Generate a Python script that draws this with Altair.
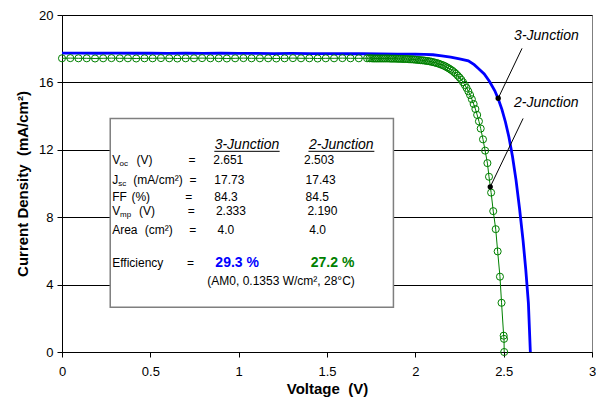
import altair as alt
import pandas as pd

# ---------------- data ----------------
# 3-junction cell (blue solid curve)
volt_3j = [0.0, 0.1, 0.2, 0.3, 0.4, 0.5, 0.6, 0.7, 0.8, 0.9,
           1.0, 1.1, 1.2, 1.3, 1.4, 1.5, 1.6, 1.7, 1.8, 1.9,
           2.0, 2.05, 2.1, 2.15, 2.2, 2.25, 2.3, 2.333, 2.36, 2.39,
           2.42, 2.45, 2.47, 2.49, 2.51, 2.53, 2.55, 2.57, 2.59, 2.61,
           2.625, 2.64, 2.651]
curr_3j = [17.74, 17.74, 17.73, 17.74, 17.73, 17.73, 17.72, 17.73, 17.72, 17.73,
           17.72, 17.72, 17.71, 17.72, 17.71, 17.71, 17.70, 17.70, 17.69, 17.68,
           17.67, 17.66, 17.64, 17.58, 17.50, 17.40, 17.28, 17.05, 16.80, 16.50,
           16.05, 15.50, 15.00, 14.40, 13.65, 12.75, 11.60, 10.20, 8.50, 6.60,
           4.90, 2.90, 0.00]

# 2-junction cell (green line with open circles)
volt_2j_flat = [0.000, 0.047, 0.093, 0.140, 0.187, 0.233, 0.280, 0.327, 0.373, 0.420,
                0.467, 0.513, 0.560, 0.607, 0.653, 0.700, 0.747, 0.793, 0.840, 0.887,
                0.933, 0.980, 1.027, 1.073, 1.120, 1.167, 1.213, 1.260, 1.307, 1.353,
                1.400, 1.447, 1.493, 1.540, 1.587, 1.633, 1.680, 1.727]
curr_2j_flat = [17.43, 17.44, 17.43, 17.43, 17.42, 17.43, 17.44, 17.43, 17.43, 17.42,
                17.43, 17.43, 17.44, 17.43, 17.42, 17.43, 17.43, 17.44, 17.43, 17.43,
                17.42, 17.43, 17.44, 17.43, 17.43, 17.43, 17.42, 17.43, 17.44, 17.43,
                17.43, 17.42, 17.43, 17.43, 17.44, 17.43, 17.43, 17.43]
volt_2j_knee = [1.74, 1.75, 1.76, 1.77, 1.78, 1.79, 1.80, 1.81, 1.82, 1.83,
                1.84, 1.85, 1.86, 1.87, 1.88, 1.89, 1.90, 1.91, 1.92, 1.93,
                1.94, 1.95, 1.96, 1.97, 1.98, 1.99, 2.00, 2.01, 2.02, 2.03,
                2.04, 2.05, 2.06, 2.07, 2.08, 2.09, 2.10, 2.11, 2.12, 2.13,
                2.14, 2.15, 2.16, 2.17, 2.18, 2.19, 2.20, 2.21, 2.22, 2.23,
                2.24, 2.25, 2.26, 2.27, 2.28, 2.29, 2.30, 2.31, 2.32, 2.33,
                2.34, 2.35, 2.36, 2.37]
curr_2j_knee = [17.43, 17.43, 17.42, 17.42, 17.42, 17.42, 17.42, 17.42, 17.42, 17.42,
                17.42, 17.42, 17.41, 17.41, 17.41, 17.41, 17.40, 17.40, 17.40, 17.39,
                17.39, 17.39, 17.38, 17.37, 17.37, 17.36, 17.35, 17.34, 17.33, 17.32,
                17.31, 17.30, 17.28, 17.27, 17.25, 17.23, 17.20, 17.18, 17.15, 17.12,
                17.08, 17.04, 17.00, 16.95, 16.89, 16.83, 16.76, 16.69, 16.60, 16.51,
                16.40, 16.29, 16.16, 16.01, 15.85, 15.67, 15.47, 15.25, 15.00, 14.72,
                14.42, 14.07, 13.69, 13.26]
volt_2j_drop = [2.383, 2.395, 2.408, 2.417, 2.429, 2.441, 2.455, 2.466, 2.479, 2.488,
                2.500, 2.502, 2.503]
curr_2j_drop = [12.62, 11.95, 11.21, 10.40, 9.46, 8.36, 7.29, 5.97, 4.47, 2.92,
                0.97, 0.78, 0.00]

x_tick_values = [0, 0.5, 1, 1.5, 2, 2.5, 3]
y_tick_values = [0, 4, 8, 12, 16, 20]

series_names = ["3-Junction", "2-Junction"]
values_3j = ["2.651", "17.73", "84.3", "2.333", "4.0"]
values_2j = ["2.503", "17.43", "84.5", "2.190", "4.0"]
efficiency_3j = "29.3 %"
efficiency_2j = "27.2 %"
conditions = "(AM0, 0.1353 W/cm\u00b2, 28\u00b0C)"
marker_3j = [2.469, 15.06]
marker_2j = [2.424, 9.80]

# ---------------- styling ----------------
FONT = "Liberation Sans"
BLUE = "#0000ff"
GREEN = "#008000"
W, H = 530, 337

xs = alt.Scale(domain=[0, 3], nice=False, zero=False)
ys = alt.Scale(domain=[0, 20], nice=False, zero=False)

x_axis = alt.Axis(
    title="Voltage\u00a0 (V)", values=x_tick_values, format="~g", grid=False,
    domainColor="black", tickColor="black", tickSize=5, labelPadding=8,
    labelFont=FONT, labelFontSize=13, labelColor="black", labelFlush=False,
    titleFont=FONT, titleFontSize=15, titleFontWeight="bold", titleColor="black",
    titleX=W / 2, titleY=41, titleBaseline="alphabetic", titleAlign="center")
y_axis = alt.Axis(
    title="Current Density\u00a0 (mA/cm\u00b2)", values=y_tick_values, grid=True,
    gridColor="black", gridWidth=1, gridOpacity=1,
    domainColor="black", tickColor="black", tickSize=5, labelPadding=4,
    labelFont=FONT, labelFontSize=13, labelColor="black", labelFlush=False,
    titleFont=FONT, titleFontSize=15, titleFontWeight="bold", titleColor="black",
    titleX=-40, titleY=H / 2, titleBaseline="middle", titleAlign="center")


def X(field):
    return alt.X(field, type="quantitative", scale=xs, axis=x_axis)


def Y(field):
    return alt.Y(field, type="quantitative", scale=ys, axis=y_axis)


df3 = pd.DataFrame({"V": volt_3j, "J": curr_3j})
df3["i"] = range(len(df3))
volt_2j = volt_2j_flat + volt_2j_knee + volt_2j_drop
curr_2j = curr_2j_flat + curr_2j_knee + curr_2j_drop
df2 = pd.DataFrame({"V": volt_2j, "J": curr_2j})
df2["i"] = range(len(df2))

blue_line = alt.Chart(df3).mark_line(color=BLUE, strokeWidth=2.8).encode(
    x=X("V"), y=Y("J"), order=alt.Order("i:Q"))
green_line = alt.Chart(df2).mark_line(color=GREEN, strokeWidth=1).encode(
    x=X("V"), y=Y("J"), order=alt.Order("i:Q"))
green_pts = alt.Chart(df2).mark_point(
    shape="circle", filled=False, color=GREEN, size=50, strokeWidth=1, opacity=1).encode(
    x=X("V"), y=Y("J"))

# inset table box
box_df = pd.DataFrame({"x1": [0.273], "x2": [1.876], "y1": [2.66], "y2": [13.86]})
box = alt.Chart(box_df).mark_rect(fill="white", stroke="#7f7f7f", strokeWidth=1.5).encode(
    x=X("x1"), x2="x2", y=Y("y1"), y2="y2")

# callouts
call_df = pd.DataFrame({
    "V": [marker_3j[0], marker_2j[0]], "J": [marker_3j[1], marker_2j[1]],
    "V2": [2.604, 2.610], "J2": [18.02, 13.86]})
call_lines = alt.Chart(call_df).mark_rule(color="black", strokeWidth=1).encode(
    x=X("V"), y=Y("J"), x2="V2", y2="J2")
call_dots = alt.Chart(call_df).mark_circle(color="black", size=28, opacity=1).encode(
    x=X("V"), y=Y("J"))


def text_layer(df, **kw):
    return alt.Chart(df).mark_text(font=FONT, baseline="middle", **kw).encode(
        x=X("V"), y=Y("J"), text="t:N")


call_text = text_layer(pd.DataFrame({
    "V": [2.742, 2.741], "J": [18.78, 14.77], "t": series_names}),
    fontSize=14, fontStyle="italic", align="center", color="black")

row_J = [11.37, 10.20, 9.20, 8.36, 7.25, 5.31]

headers = text_layer(pd.DataFrame({
    "V": [1.047, 1.581], "J": [12.29, 12.29], "t": series_names}),
    fontSize=14, fontStyle="italic", align="center", color="black")
underline_df = pd.DataFrame({"V": [0.862, 1.395], "V2": [1.232, 1.768], "J": [11.91, 11.91]})
underlines = alt.Chart(underline_df).mark_rule(color="black", strokeWidth=1).encode(
    x=X("V"), x2="V2", y=Y("J"))

labels_main = text_layer(pd.DataFrame({
    "V": [0.284] * 6, "J": row_J,
    "t": ["V", "J", "FF", "V", "Area", "Efficiency"]}),
    fontSize=12, align="left", color="black")
labels_sub = text_layer(pd.DataFrame({
    "V": [0.326, 0.318, 0.329], "J": [row_J[0] - 0.22, row_J[1] - 0.22, row_J[3] - 0.22],
    "t": ["oc", "sc", "mp"]}),
    fontSize=8, align="left", color="black")
labels_unit = text_layer(pd.DataFrame({
    "V": [0.422, 0.404, 0.393, 0.436, 0.469],
    "J": [row_J[0], row_J[1], row_J[2], row_J[3], row_J[4]],
    "t": ["(V)", "(mA/cm\u00b2)", "(%)", "(V)", "(cm\u00b2)"]}),
    fontSize=12, align="left", color="black")
equals = text_layer(pd.DataFrame({
    "V": [0.736, 0.742, 0.718, 0.731, 0.740, 0.727], "J": row_J, "t": ["="] * 6}),
    fontSize=12, align="center", color="black")
col_3j = text_layer(pd.DataFrame({
    "V": [0.856, 0.862, 0.862, 0.871, 0.880], "J": row_J[:5], "t": values_3j}),
    fontSize=12, align="left", color="black")
col_2j = text_layer(pd.DataFrame({
    "V": [1.370, 1.379, 1.379, 1.389, 1.400], "J": row_J[:5], "t": values_2j}),
    fontSize=12, align="left", color="black")
eff3 = text_layer(pd.DataFrame({"V": [0.868], "J": [row_J[5]], "t": [efficiency_3j]}),
                  fontSize=14, fontWeight="bold", align="left", color=BLUE)
eff2 = text_layer(pd.DataFrame({"V": [1.408], "J": [row_J[5]], "t": [efficiency_2j]}),
                  fontSize=14, fontWeight="bold", align="left", color=GREEN)
cond = text_layer(pd.DataFrame({"V": [1.240], "J": [4.22], "t": [conditions]}),
                  fontSize=12, align="center", color="black")

chart = alt.layer(
    box, blue_line, green_line, green_pts, call_lines, call_dots, call_text,
    headers, underlines, labels_main, labels_sub, labels_unit, equals,
    col_3j, col_2j, eff3, eff2, cond
).properties(
    width=W, height=H,
    autosize=alt.AutoSizeParams(type="none"),
    padding={"left": 54, "top": 7, "right": 4, "bottom": 45},
).configure_view(stroke="#7f7f7f", strokeWidth=1)

chart.save("out.html", embed_options={"renderer": "svg", "actions": False})
